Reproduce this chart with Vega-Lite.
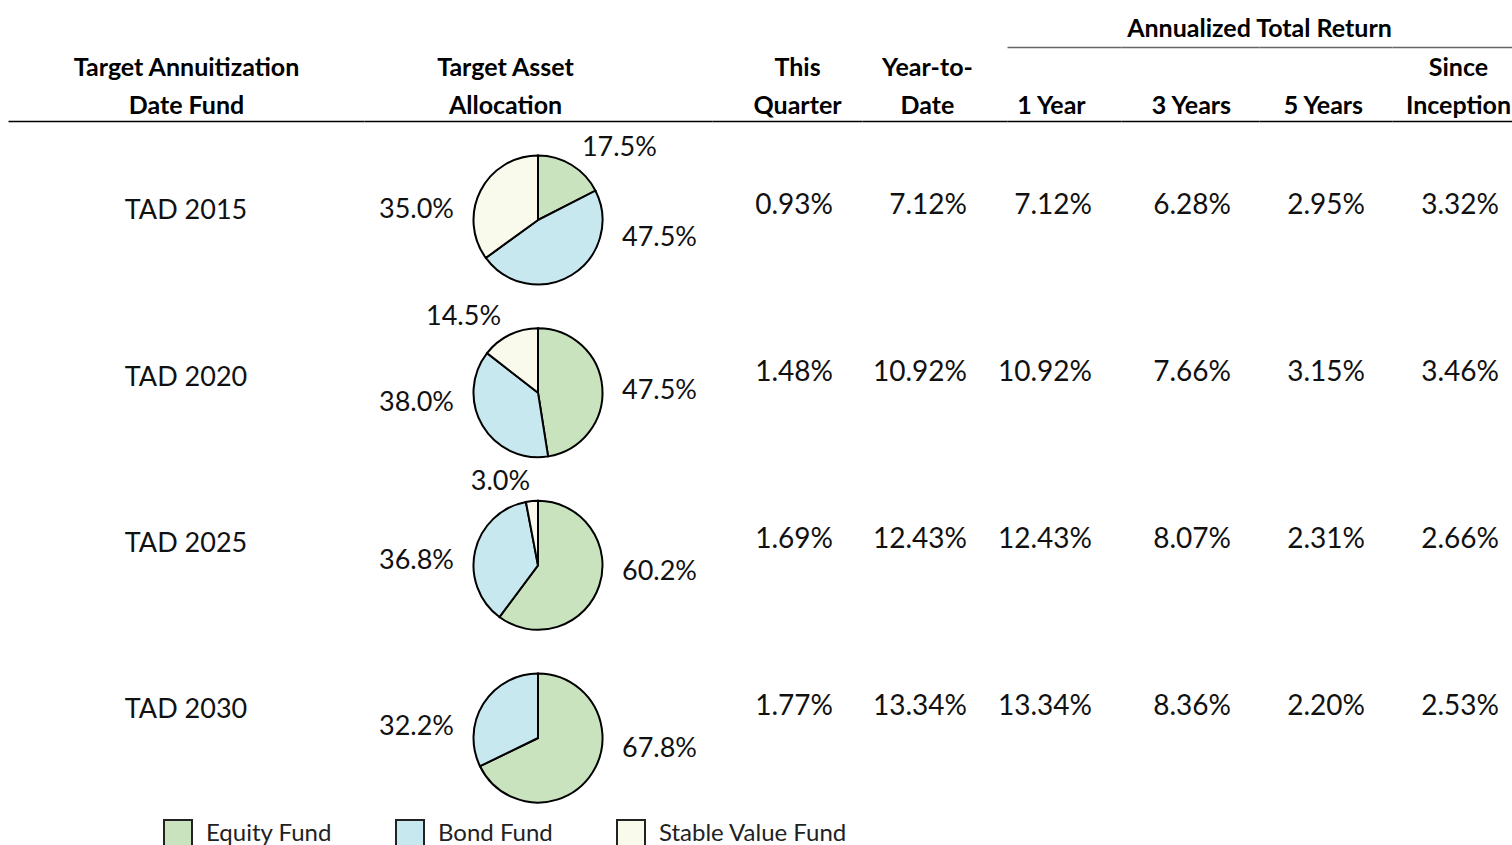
{
  "$schema": "https://vega.github.io/schema/vega-lite/v6.json",
  "background": "white",
  "padding": {"left": 8, "top": 16, "right": 0, "bottom": 0},
  "bounds": "flush",
  "spacing": 0,
  "datasets": {
    "returns": [
      {"fund": "TAD 2015", "metric": "This Quarter", "value": 0.0093},
      {"fund": "TAD 2015", "metric": "Year-to-Date", "value": 0.0712},
      {"fund": "TAD 2015", "metric": "1 Year", "value": 0.0712},
      {"fund": "TAD 2015", "metric": "3 Years", "value": 0.0628},
      {"fund": "TAD 2015", "metric": "5 Years", "value": 0.0295},
      {"fund": "TAD 2015", "metric": "Since Inception", "value": 0.0332},
      {"fund": "TAD 2020", "metric": "This Quarter", "value": 0.0148},
      {"fund": "TAD 2020", "metric": "Year-to-Date", "value": 0.1092},
      {"fund": "TAD 2020", "metric": "1 Year", "value": 0.1092},
      {"fund": "TAD 2020", "metric": "3 Years", "value": 0.0766},
      {"fund": "TAD 2020", "metric": "5 Years", "value": 0.0315},
      {"fund": "TAD 2020", "metric": "Since Inception", "value": 0.0346},
      {"fund": "TAD 2025", "metric": "This Quarter", "value": 0.0169},
      {"fund": "TAD 2025", "metric": "Year-to-Date", "value": 0.1243},
      {"fund": "TAD 2025", "metric": "1 Year", "value": 0.1243},
      {"fund": "TAD 2025", "metric": "3 Years", "value": 0.0807},
      {"fund": "TAD 2025", "metric": "5 Years", "value": 0.0231},
      {"fund": "TAD 2025", "metric": "Since Inception", "value": 0.0266},
      {"fund": "TAD 2030", "metric": "This Quarter", "value": 0.0177},
      {"fund": "TAD 2030", "metric": "Year-to-Date", "value": 0.1334},
      {"fund": "TAD 2030", "metric": "1 Year", "value": 0.1334},
      {"fund": "TAD 2030", "metric": "3 Years", "value": 0.0836},
      {"fund": "TAD 2030", "metric": "5 Years", "value": 0.0220},
      {"fund": "TAD 2030", "metric": "Since Inception", "value": 0.0253}
    ],
    "alloc": [
      {"fund": "TAD 2015", "asset": "Equity Fund", "pct": 0.175},
      {"fund": "TAD 2015", "asset": "Bond Fund", "pct": 0.475},
      {"fund": "TAD 2015", "asset": "Stable Value Fund", "pct": 0.35},
      {"fund": "TAD 2020", "asset": "Equity Fund", "pct": 0.475},
      {"fund": "TAD 2020", "asset": "Bond Fund", "pct": 0.38},
      {"fund": "TAD 2020", "asset": "Stable Value Fund", "pct": 0.145},
      {"fund": "TAD 2025", "asset": "Equity Fund", "pct": 0.602},
      {"fund": "TAD 2025", "asset": "Bond Fund", "pct": 0.368},
      {"fund": "TAD 2025", "asset": "Stable Value Fund", "pct": 0.03},
      {"fund": "TAD 2030", "asset": "Equity Fund", "pct": 0.678},
      {"fund": "TAD 2030", "asset": "Bond Fund", "pct": 0.322}
    ]
  },
  "config": {
    "view": {"stroke": null},
    "font": "Lato",
    "axis": {
      "domain": true, "domainColor": "#000", "domainWidth": 1.5,
      "ticks": false, "tickSize": 0, "grid": false,
      "labelFont": "Lato", "labelFontWeight": "bold", "labelFontSize": 25, "labelColor": "#000",
      "labelLineHeight": 38, "labelPadding": 46, "labelLimit": 600, "labelAngle": 0,
      "labelBaseline": "alphabetic", "labelAlign": "center",
      "labelOverlap": false, "labelBound": false, "labelFlush": false
    }
  },
  "resolve": {"scale": {"x": "independent", "y": "independent", "theta": "independent"}},
  "hconcat": [
    {
      "width": 356, "height": 700,
      "data": {"name": "returns"},
      "transform": [{"filter": "datum.metric === 'This Quarter'"}],
      "mark": {"type": "text", "fontSize": 27, "font": "Lato", "color": "#111", "align": "center", "baseline": "middle"},
      "encoding": {
        "x": {"datum": "Target Annuitization Date Fund", "type": "nominal", "scale": {"type": "point"}, "axis": {"orient": "top", "title": null, "labelExpr": "['Target Annuitization', 'Date Fund']"}},
        "y": {"field": "fund", "type": "nominal", "scale": {"type": "point", "domain": ["TAD 2015", "TAD 2020", "TAD 2025", "TAD 2030"], "padding": 0.606, "align": 0.449}, "axis": null},
        "text": {"field": "fund", "type": "nominal"}
      }
    },
    {
      "width": 348, "height": 700,
      "data": {"name": "alloc"},
      "transform": [
        {"calculate": "indexof(['Equity Fund', 'Bond Fund', 'Stable Value Fund'], datum.asset)", "as": "k"},
        {"stack": "pct", "groupby": ["fund"], "sort": [{"field": "k", "order": "ascending"}], "as": ["t0", "t1"]},
        {"calculate": "(datum.t0 + datum.t1) / 2", "as": "mid"}
      ],
      "layer": [
        {
          "mark": {"type": "arc", "radius": 64.5, "stroke": "#000", "strokeWidth": 2},
          "encoding": {
            "x": {"datum": "Target Asset Allocation", "type": "nominal", "scale": {"type": "point"}, "axis": {"orient": "top", "title": null, "labelOffset": -33, "labelExpr": "['Target Asset', 'Allocation']"}},
            "y": {"field": "fund", "type": "nominal", "scale": {"type": "point", "domain": ["TAD 2015", "TAD 2020", "TAD 2025", "TAD 2030"], "padding": 0.527, "align": 0.544}, "axis": null},
            "theta": {"field": "t0", "type": "quantitative", "scale": {"domain": [0, 1]}, "stack": null},
            "theta2": {"field": "t1"},
            "color": {
              "field": "asset", "type": "nominal",
              "scale": {"domain": ["Equity Fund", "Bond Fund", "Stable Value Fund"], "range": ["#c9e3bf", "#c8e8ef", "#fafaec"]},
              "legend": {
                "orient": "none", "legendX": 155, "legendY": 698, "direction": "horizontal", "title": null,
                "symbolType": "square", "symbolSize": 784, "symbolStrokeColor": "#222", "symbolStrokeWidth": 2, "symbolOpacity": 1,
                "labelFont": "Lato", "labelFontSize": 24, "labelColor": "#222", "labelOffset": 13, "labelLimit": 400, "columnPadding": 60
              }
            }
          }
        },
        {
          "mark": {
            "type": "text", "radius": 84, "fontSize": 27, "font": "Lato", "color": "#111", "baseline": "middle",
            "align": {"expr": "datum.mid < 0.5 ? 'left' : 'right'"},
            "dx": {"expr": "(cos(2 * PI * datum.mid) < 0 || abs(sin(2 * PI * datum.mid)) > 0.8) ? 84 * ((datum.mid < 0.5 ? 1 : -1) - sin(2 * PI * datum.mid)) : 0"},
            "dy": {"expr": "(cos(2 * PI * datum.mid) < 0 || abs(sin(2 * PI * datum.mid)) > 0.8) ? 63 * cos(2 * PI * datum.mid) : 0"}
          },
          "encoding": {
            "x": {"datum": "Target Asset Allocation", "type": "nominal", "scale": {"type": "point"}, "axis": {"orient": "top", "title": null, "labelOffset": -33, "labelExpr": "['Target Asset', 'Allocation']"}},
            "y": {"field": "fund", "type": "nominal", "scale": {"type": "point", "domain": ["TAD 2015", "TAD 2020", "TAD 2025", "TAD 2030"], "padding": 0.527, "align": 0.544}, "axis": null},
            "theta": {"field": "mid", "type": "quantitative", "scale": {"domain": [0, 1]}},
            "text": {"field": "pct", "type": "quantitative", "format": ".1%"}
          }
        }
      ]
    },
    {
      "width": 150, "height": 700,
      "data": {"name": "returns"},
      "transform": [{"filter": "datum.metric === 'This Quarter'"}],
      "mark": {"type": "text", "fontSize": 28, "font": "Lato", "color": "#111", "align": "right", "dx": 36, "baseline": "middle"},
      "encoding": {
        "x": {"field": "metric", "type": "nominal", "scale": {"type": "point", "align": 0.567}, "axis": {"orient": "top", "title": null, "labelExpr": "['This', 'Quarter']"}},
        "y": {"field": "fund", "type": "nominal", "scale": {"type": "point", "domain": ["TAD 2015", "TAD 2020", "TAD 2025", "TAD 2030"], "padding": 0.596, "align": 0.427}, "axis": null},
        "text": {"field": "value", "type": "quantitative", "format": ".2%"}
      }
    },
    {
      "width": 145, "height": 700,
      "data": {"name": "returns"},
      "transform": [{"filter": "datum.metric === 'Year-to-Date'"}],
      "mark": {"type": "text", "fontSize": 28, "font": "Lato", "color": "#111", "align": "right", "dx": 40, "baseline": "middle"},
      "encoding": {
        "x": {"field": "metric", "type": "nominal", "scale": {"type": "point", "align": 0.448}, "axis": {"orient": "top", "title": null, "labelExpr": "['Year-to-', 'Date']"}},
        "y": {"field": "fund", "type": "nominal", "scale": {"type": "point", "domain": ["TAD 2015", "TAD 2020", "TAD 2025", "TAD 2030"], "padding": 0.596, "align": 0.427}, "axis": null},
        "text": {"field": "value", "type": "quantitative", "format": ".2%"}
      }
    },
    {
      "width": 114, "height": 700,
      "data": {"name": "returns"},
      "transform": [{"filter": "datum.metric === '1 Year'"}],
      "layer": [
        {
          "mark": {"type": "text", "fontSize": 28, "font": "Lato", "color": "#111", "align": "right", "dx": 41, "baseline": "middle"},
          "encoding": {
            "x": {"field": "metric", "type": "nominal", "scale": {"type": "point", "align": 0.386}, "axis": {"orient": "top", "title": null, "labelExpr": "['', '1 Year']"}},
            "y": {"field": "fund", "type": "nominal", "scale": {"type": "point", "domain": ["TAD 2015", "TAD 2020", "TAD 2025", "TAD 2030"], "padding": 0.596, "align": 0.427}, "axis": null},
            "text": {"field": "value", "type": "quantitative", "format": ".2%"}
          }
        },
        {
          "mark": {"type": "text", "fontSize": 28, "font": "Lato", "opacity": 0, "align": "right", "dx": 41, "baseline": "middle"},
          "encoding": {
            "x": {"field": "metric", "type": "nominal", "scale": {"type": "point", "align": 0.386}, "axis": {"orient": "top", "offset": 74, "labels": false, "domainColor": "#666", "title": null}},
            "y": {"field": "fund", "type": "nominal", "scale": {"type": "point", "domain": ["TAD 2015", "TAD 2020", "TAD 2025", "TAD 2030"], "padding": 0.596, "align": 0.427}, "axis": null},
            "text": {"field": "value", "type": "quantitative", "format": ".2%"}
          }
        }
      ],
      "resolve": {"scale": {"x": "independent"}}
    },
    {
      "width": 138, "height": 700,
      "data": {"name": "returns"},
      "transform": [{"filter": "datum.metric === '3 Years'"}],
      "layer": [
        {
          "mark": {"type": "text", "fontSize": 28, "font": "Lato", "color": "#111", "align": "right", "dx": 40, "baseline": "middle"},
          "encoding": {
            "x": {"field": "metric", "type": "nominal", "scale": {"type": "point", "align": 0.507}, "axis": {"orient": "top", "title": null, "labelExpr": "['', '3 Years']"}},
            "y": {"field": "fund", "type": "nominal", "scale": {"type": "point", "domain": ["TAD 2015", "TAD 2020", "TAD 2025", "TAD 2030"], "padding": 0.596, "align": 0.427}, "axis": null},
            "text": {"field": "value", "type": "quantitative", "format": ".2%"}
          }
        },
        {
          "mark": {"type": "text", "fontSize": 28, "font": "Lato", "opacity": 0, "align": "right", "dx": 40, "baseline": "middle"},
          "encoding": {
            "x": {"field": "metric", "type": "nominal", "scale": {"type": "point", "align": 0.507}, "axis": {"orient": "top", "offset": 74, "labels": false, "domainColor": "#666", "title": "Annualized Total Return", "titleAnchor": "end", "titleAlign": "center", "titleBaseline": "alphabetic", "titleFont": "Lato", "titleFontWeight": "bold", "titleFontSize": 25, "titleColor": "#000", "titlePadding": 11}},
            "y": {"field": "fund", "type": "nominal", "scale": {"type": "point", "domain": ["TAD 2015", "TAD 2020", "TAD 2025", "TAD 2030"], "padding": 0.596, "align": 0.427}, "axis": null},
            "text": {"field": "value", "type": "quantitative", "format": ".2%"}
          }
        }
      ],
      "resolve": {"scale": {"x": "independent"}}
    },
    {
      "width": 133, "height": 700,
      "data": {"name": "returns"},
      "transform": [{"filter": "datum.metric === '5 Years'"}],
      "layer": [
        {
          "mark": {"type": "text", "fontSize": 28, "font": "Lato", "color": "#111", "align": "right", "dx": 42, "baseline": "middle"},
          "encoding": {
            "x": {"field": "metric", "type": "nominal", "scale": {"type": "point", "align": 0.481}, "axis": {"orient": "top", "title": null, "labelExpr": "['', '5 Years']"}},
            "y": {"field": "fund", "type": "nominal", "scale": {"type": "point", "domain": ["TAD 2015", "TAD 2020", "TAD 2025", "TAD 2030"], "padding": 0.596, "align": 0.427}, "axis": null},
            "text": {"field": "value", "type": "quantitative", "format": ".2%"}
          }
        },
        {
          "mark": {"type": "text", "fontSize": 28, "font": "Lato", "opacity": 0, "align": "right", "dx": 42, "baseline": "middle"},
          "encoding": {
            "x": {"field": "metric", "type": "nominal", "scale": {"type": "point", "align": 0.481}, "axis": {"orient": "top", "offset": 74, "labels": false, "domainColor": "#666", "title": null}},
            "y": {"field": "fund", "type": "nominal", "scale": {"type": "point", "domain": ["TAD 2015", "TAD 2020", "TAD 2025", "TAD 2030"], "padding": 0.596, "align": 0.427}, "axis": null},
            "text": {"field": "value", "type": "quantitative", "format": ".2%"}
          }
        }
      ],
      "resolve": {"scale": {"x": "independent"}}
    },
    {
      "width": 120, "height": 700,
      "data": {"name": "returns"},
      "transform": [{"filter": "datum.metric === 'Since Inception'"}],
      "layer": [
        {
          "mark": {"type": "text", "fontSize": 28, "font": "Lato", "color": "#111", "align": "right", "dx": 41, "baseline": "middle"},
          "encoding": {
            "x": {"field": "metric", "type": "nominal", "scale": {"type": "point", "align": 0.55}, "axis": {"orient": "top", "title": null, "labelExpr": "['Since', 'Inception']"}},
            "y": {"field": "fund", "type": "nominal", "scale": {"type": "point", "domain": ["TAD 2015", "TAD 2020", "TAD 2025", "TAD 2030"], "padding": 0.596, "align": 0.427}, "axis": null},
            "text": {"field": "value", "type": "quantitative", "format": ".2%"}
          }
        },
        {
          "mark": {"type": "text", "fontSize": 28, "font": "Lato", "opacity": 0, "align": "right", "dx": 41, "baseline": "middle"},
          "encoding": {
            "x": {"field": "metric", "type": "nominal", "scale": {"type": "point", "align": 0.55}, "axis": {"orient": "top", "offset": 74, "labels": false, "domainColor": "#666", "title": null}},
            "y": {"field": "fund", "type": "nominal", "scale": {"type": "point", "domain": ["TAD 2015", "TAD 2020", "TAD 2025", "TAD 2030"], "padding": 0.596, "align": 0.427}, "axis": null},
            "text": {"field": "value", "type": "quantitative", "format": ".2%"}
          }
        }
      ],
      "resolve": {"scale": {"x": "independent"}}
    }
  ]
}
